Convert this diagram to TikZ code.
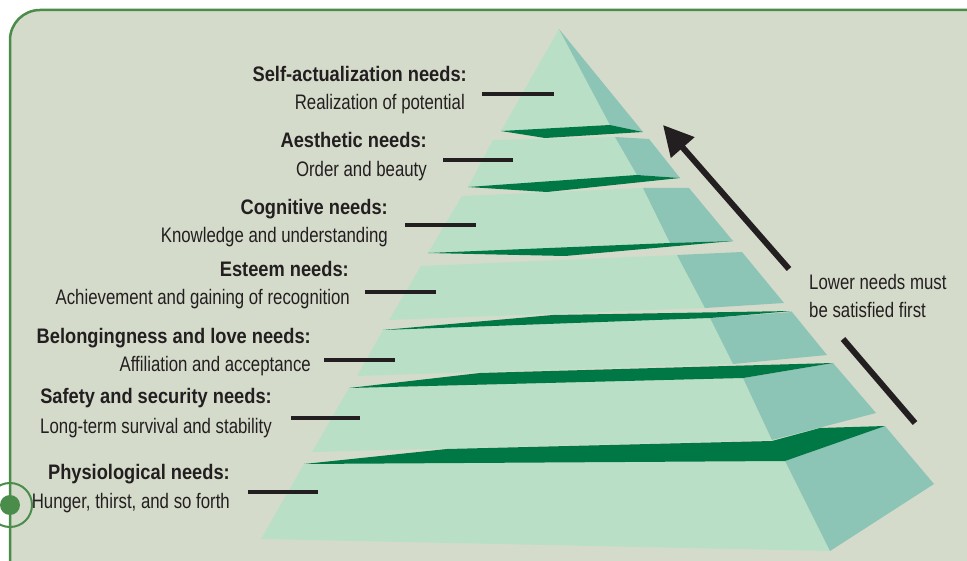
\documentclass[tikz,border=0pt]{standalone}
\usepackage{fontspec}
\setmainfont{Liberation Sans}
\newfontfamily\labb[FakeStretch=0.87]{Liberation Sans}
\newfontfamily\labr[FakeStretch=0.80]{Liberation Sans}
\usetikzlibrary{arrows.meta}
\definecolor{bgc}{RGB}{213,219,203}
\definecolor{framec}{RGB}{74,140,74}
\definecolor{frontc}{RGB}{185,224,198}
\definecolor{sidec}{RGB}{140,196,182}
\definecolor{bandc}{RGB}{0,120,70}
\definecolor{ink}{RGB}{35,31,32}
\begin{document}
\begin{tikzpicture}[x=1pt,y=-1pt,
  head/.style={font=\labb\bfseries\fontsize{21}{25}\selectfont, text=ink, inner sep=0pt, anchor=base east},
  sub/.style={font=\labr\fontsize{21}{25}\selectfont, text=ink, inner sep=0pt, anchor=base east},
  note/.style={font=\labr\fontsize{21}{25}\selectfont, text=ink, inner sep=0pt, anchor=base west},
  leader/.style={draw=ink, line width=3.5pt},
  frontface/.style={fill=frontc},
  sideface/.style={fill=sidec},
  topband/.style={fill=bandc},
  bigarrow/.style={draw=ink, line width=6pt}]
\useasboundingbox (0,0) rectangle (967,561);
\clip (0,0) rectangle (967,561);
\fill[white] (0,0) rectangle (967,561);
% frame
\filldraw[fill=bgc, draw=framec, line width=2.5pt, rounded corners=30pt]
  (10,620) -- (10,10) -- (1000,10) -- (1000,620) -- cycle;
% bullet
\draw[framec, line width=2pt] (10,505) circle[radius=22];
\fill[framec] (10,505) circle[radius=10];

% layer 1
\fill[frontface] (559,29) -- (610,125) -- (501,131) -- cycle;
\fill[sideface] (559,29) -- (643,132) -- (610,125) -- cycle;
% layer 2
\fill[frontface] (493,140) -- (615,137) -- (637,175) -- (468,187) -- cycle;
\fill[sideface] (615,137) -- (649,139) -- (680,178) -- (637,175) -- cycle;
% layer 3
\fill[frontface] (462,196) -- (643,188) -- (670,243) -- (428,253) -- cycle;
\fill[sideface] (643,188) -- (689,188) -- (733,241) -- (670,243) -- cycle;
% layer 4
\fill[frontface] (421,266) -- (677,255) -- (705,308) -- (389,320) -- cycle;
\fill[sideface] (677,255) -- (742,252) -- (784,303) -- (705,308) -- cycle;
% layer 5
\fill[frontface] (383,330) -- (710,318) -- (733,364) -- (357,376) -- cycle;
\fill[sideface] (710,318) -- (792,312) -- (827,355) -- (733,364) -- cycle;
% layer 6
\fill[frontface] (349,388) -- (743,378) -- (772,440) -- (312,452) -- cycle;
\fill[sideface] (743,378) -- (833,363) -- (876,413) -- (772,440) -- cycle;
% layer 7
\fill[frontface] (304,464) -- (785,461) -- (830,551) -- (261,539) -- cycle;
\fill[sideface] (785,461) -- (885,426) -- (934,484) -- (830,551) -- cycle;
% dark bands
\fill[topband] (501,131) -- (610,125) -- (643,132) -- (545,138) -- cycle;
\fill[topband] (468,187) -- (637,175) -- (680,178) -- (547,192) -- cycle;
\fill[topband] (428,253) -- (670,243) -- (733,241) -- (565,256) -- cycle;
\fill[topband] (383,330) -- (553,315) -- (792,311) -- (710,318) -- cycle;
\fill[topband] (349,388) -- (480,373) -- (833,363) -- (743,378) -- cycle;
\fill[topband] (304,464) -- (447,449) -- (772,441) -- (820,428) -- (885,426) -- (785,461) -- cycle;

% labels
\node[head] (h1) at (467,82) {Self-actualization needs:};
\node[sub]  (s1) at (465,110) {Realization of potential};
\node[head] (h2) at (427,148) {Aesthetic needs:};
\node[sub]  (s2) at (427,177) {Order and beauty};
\node[head] (h3) at (388,215) {Cognitive needs:};
\node[sub]  (s3) at (388,243) {Knowledge and understanding};
\node[head] (h4) at (349,277) {Esteem needs:};
\node[sub]  (s4) at (350,305) {Achievement and gaining of recognition};
\node[head] (h5) at (311,344) {Belongingness and love needs:};
\node[sub]  (s5) at (311,371) {Affiliation and acceptance};
\node[head] (h6) at (272,403) {Safety and security needs:};
\node[sub]  (s6) at (272,433) {Long-term survival and stability};
\node[head] (h7) at (230,479) {Physiological needs:};
\node[sub]  (s7) at (230,508) {Hunger, thirst, and so forth};
\node[note] (n1) at (809,290) {Lower needs must};
\node[note] (n2) at (809,318) {be satisfied first};

% leaders
\draw[leader] (482,94) -- (554,94);
\draw[leader] (443,160) -- (513,160);
\draw[leader] (405,225) -- (476,225);
\draw[leader] (365,292) -- (436,292);
\draw[leader] (324,360) -- (395,360);
\draw[leader] (291,418) -- (360,418);
\draw[leader] (248,492) -- (318,492);

% arrow
\coordinate (atail) at (789,269);
\coordinate (atip) at (663,125);
\coordinate (ltop) at (843,339);
\coordinate (lbot) at (915,423);
\draw[bigarrow, -{Triangle[length=30pt,width=30pt]}] (atail) -- (atip);
\draw[bigarrow] (ltop) -- (lbot);
\end{tikzpicture}
\end{document}
